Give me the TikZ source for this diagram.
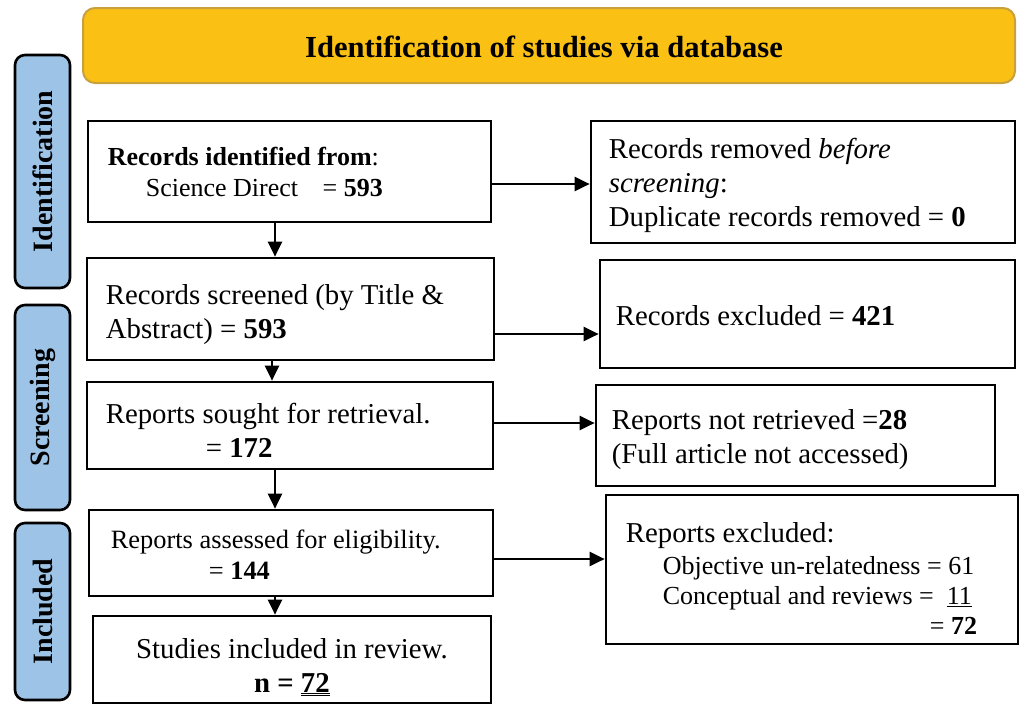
\documentclass[tikz,border=0pt]{standalone}
\usepackage{fontspec}
\setmainfont{Liberation Serif}
\usetikzlibrary{arrows.meta,calc}
\definecolor{titlefill}{RGB}{251,192,20}
\definecolor{titledraw}{RGB}{200,160,60}
\definecolor{sidefill}{RGB}{157,195,230}
\newcommand{\fsmain}{\fontsize{28.8}{34}\selectfont}
\newcommand{\fsside}{\fontsize{28}{34}\selectfont}
\newcommand{\fssmall}{\fontsize{26}{31}\selectfont}
\newcommand{\fselig}{\fontsize{26.4}{31}\selectfont}
\newcommand{\fssub}{\fontsize{26}{30}\selectfont}
\newcommand{\dblul}[1]{\underline{\underline{#1}}}
\begin{document}
\begin{tikzpicture}[x=1pt,y=-1pt,
  flowbox/.style={draw=black, line width=2.7pt, rectangle, inner sep=0pt, anchor=center},
  flowtext/.style={anchor=west, align=left, inner sep=0pt},
  sidebox/.style={draw=black, line width=2.6pt, fill=sidefill, rounded corners=10pt, minimum width=55pt, inner sep=0pt},
  sidetext/.style={rotate=90, font=\fsside\bfseries},
  flowarrow/.style={line width=2.2pt, -{Triangle[length=15pt,width=14pt]}}
]
\useasboundingbox (0,0) rectangle (1020,705);
% title banner
\node[draw=titledraw, line width=2pt, fill=titlefill, rounded corners=12pt,
      minimum width=932pt, minimum height=75pt] (title) at (549,45.5) {};
\node[font=\fontsize{30.6}{34}\selectfont\bfseries, inner sep=0pt] (titlet) at ([xshift=-5pt,yshift=-1pt]title.center) {Identification of studies via database};
% side phase boxes
\node[sidebox, minimum height=233pt] (s1) at (42.5,171.5) {};
\node[sidetext] (s1t) at (s1.center) {Identification};
\node[sidebox, minimum height=205pt] (s2) at (42.5,407.5) {};
\node[sidetext] (s2t) at (s2.center) {Screening};
\node[sidebox, minimum height=177pt] (s3) at (42.5,611.5) {};
\node[sidetext] (s3t) at (s3.center) {Included};
% left column boxes
\node[flowbox, minimum width=403pt, minimum height=101pt] (b1) at (289.5,171.5) {};
\node[flowbox, minimum width=407pt, minimum height=102pt] (b2) at (290.5,309) {};
\node[flowbox, minimum width=406pt, minimum height=87pt] (b3) at (290,425.5) {};
\node[flowbox, minimum width=404pt, minimum height=86pt] (b4) at (291,553) {};
\node[flowbox, minimum width=398pt, minimum height=87pt] (b5) at (292,659.5) {};
% left column texts
\node[flowtext, font=\fssmall] (b1t) at ([xshift=21pt]b1.west)
  {\textbf{Records identified from}:\\\hspace*{38pt}Science Direct\hspace{18pt} = \textbf{593}};
\node[flowtext, font=\fsmain] (b2t) at ([xshift=20pt,yshift=-6pt]b2.west)
  {Records screened (by Title \&\\Abstract) = \textbf{593}};
\node[flowtext, font=\fsmain] (b3t) at ([xshift=20pt,yshift=-4.5pt]b3.west)
  {Reports sought for retrieval.\\\hspace*{100pt}= \textbf{172}};
\node[flowtext, font=\fselig] (b4t) at ([xshift=23pt,yshift=-1.5pt]b4.west)
  {Reports assessed for eligibility.\\\hspace*{98pt}= \textbf{144}};
\node[flowtext, align=center, anchor=center, font=\fsmain] (b5t) at ([yshift=-7.5pt]b5.center)
  {Studies included in review.\\\textbf{n = \dblul{72}}};
% right column boxes
\node[flowbox, minimum width=424pt, minimum height=122pt] (r1) at (803,182) {};
\node[flowbox, minimum width=415pt, minimum height=108pt] (r2) at (807.5,314) {};
\node[flowbox, minimum width=399pt, minimum height=101pt] (r3) at (795.5,435.5) {};
\node[flowbox, minimum width=412pt, minimum height=149pt] (r4) at (812,569.5) {};
% right column texts
\node[flowtext, font=\fsmain] (r1t) at ([xshift=19pt,yshift=-3.5pt]r1.west)
  {Records removed \textit{before}\\\textit{screening}:\\Duplicate records removed = \textbf{0}};
\node[flowtext, font=\fsmain] (r2t) at ([xshift=17pt,yshift=-2pt]r2.west)
  {Records excluded = \textbf{421}};
\node[flowtext, font=\fsmain] (r3t) at ([xshift=17pt,yshift=-4pt]r3.west)
  {Reports not retrieved =\textbf{28}\\(Full article not accessed)};
\node[flowtext, font=\fsmain] (r4t) at ([xshift=21pt,yshift=-9pt]r4.west)
  {Reports excluded:\\[-2pt]
  \fssub\hspace*{37pt}Objective un-relatedness = 61\\[-4pt]
  \fssub\hspace*{37pt}Conceptual and reviews = \ \underline{11}\\[-4pt]
  \fssub\hspace*{304pt}= \textbf{72}};
% connectors
\draw[flowarrow] ([yshift=-12.5pt]b1.east) -- ([yshift=-12.5pt]b1.east -| r1.west);
\draw[flowarrow] ([yshift=-25pt]b2.east) -- ([yshift=-25pt]b2.east -| r2.west);
\draw[flowarrow] ([yshift=2.5pt]b3.east) -- ([yshift=2.5pt]b3.east -| r3.west);
\draw[flowarrow] ([yshift=-6pt]b4.east) -- ([yshift=-6pt]b4.east -| r4.west);
\draw[flowarrow] ([xshift=-14.5pt]b1.south) -- ([xshift=-14.5pt]b1.south |- b2.north);
\draw[flowarrow] ([xshift=-18.5pt]b2.south) -- ([xshift=-18.5pt]b2.south |- b3.north);
\draw[flowarrow] ([xshift=-15pt]b3.south) -- ([xshift=-15pt]b3.south |- b4.north);
\draw[flowarrow] ([xshift=-16pt]b4.south) -- ([xshift=-16pt]b4.south |- b5.north);
\end{tikzpicture}
\end{document}
